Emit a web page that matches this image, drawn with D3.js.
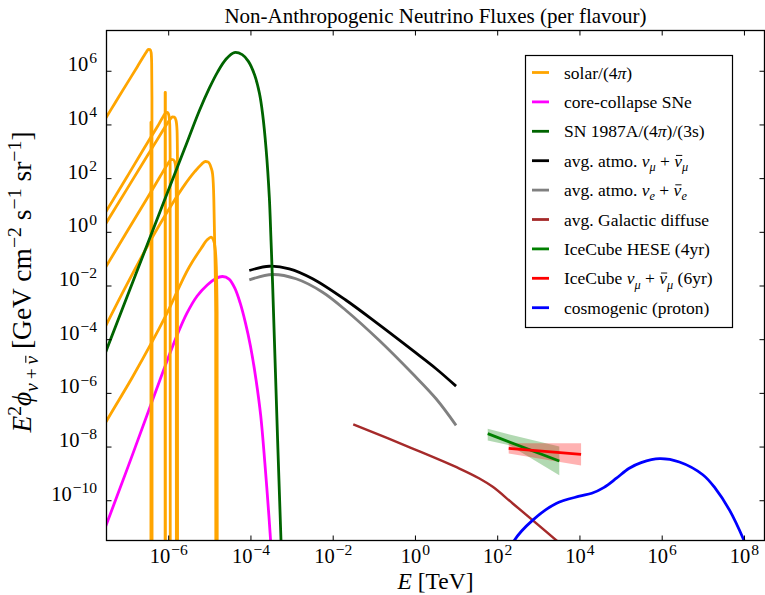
<!DOCTYPE html>
<html>
<head>
<meta charset="utf-8">
<script src="https://cdn.jsdelivr.net/npm/d3@7"></script>
<style>
  body { margin: 0; background: #fff; }
  svg { display: block; }
  text { font-family: "Liberation Serif", "Times New Roman", serif; fill: #000; }
</style>
</head>
<body>
<svg id="chart" width="765" height="595"></svg>
<script>
// All series are stored as [log10 E (TeV), log10 E^2 phi (GeV cm^-2 s^-1 sr^-1)].

// Solar neutrino spectra, divided by 4 pi
const solarPP = [[-7.6, 4.03], [-7.3, 4.78], [-7.0, 5.53], [-6.75, 6.15], [-6.6, 6.53], [-6.53, 6.70],
  [-6.48, 6.80], [-6.44, 6.79], [-6.415, 6.68], [-6.402, 6.3], [-6.395, 5.0], [-6.39, -20]];
const solarBe7Low = [[-6.42, -20], [-6.419, 4.08], [-6.414, 4.08], [-6.413, -20]];
const solarBe7High = [[-6.075, -20], [-6.074, 5.19], [-6.068, 5.19], [-6.067, -20]];
const solarN13 = [[-7.6, 0.53], [-7.0, 2.05], [-6.5, 3.33], [-6.25, 3.95], [-6.12, 4.3], [-6.06, 4.43],
  [-6.02, 4.45], [-5.985, 4.35], [-5.962, 4.0], [-5.953, 3.0], [-5.948, -20]];
const solarO15 = [[-7.6, 0.1], [-7.0, 1.6], [-6.5, 2.85], [-6.2, 3.6], [-6.05, 3.97], [-5.95, 4.2],
  [-5.9, 4.28], [-5.85, 4.27], [-5.81, 4.15], [-5.785, 3.8], [-5.775, 2.8], [-5.77, -20]];
const solarF17 = [[-7.6, -1.52], [-7.0, 0.01], [-6.5, 1.28], [-6.2, 2.05], [-6.05, 2.43], [-5.96, 2.64],
  [-5.92, 2.7], [-5.87, 2.68], [-5.83, 2.55], [-5.81, 2.2], [-5.803, 1.2], [-5.8, -20]];
const solarB8 = [[-7.6, -3.75], [-7.0, -1.95], [-6.34, -0.08], [-5.9, 1.05], [-5.6, 1.75], [-5.35, 2.25],
  [-5.2, 2.5], [-5.1, 2.62], [-5.03, 2.6], [-4.96, 2.4], [-4.92, 2.15], [-4.89, 1.2], [-4.875, 0],
  [-4.845, -3], [-4.84, -20]];
const solarHep = [[-7.6, -7.32], [-7.515, -7.09], [-6.867, -5.41], [-6.055, -3.116], [-5.484, -1.3],
  [-5.2, -0.62], [-5.05, -0.3], [-4.96, -0.2], [-4.9, -0.3], [-4.86, -0.6], [-4.83, -1.3], [-4.81, -3],
  [-4.805, -20]];
const solarSeries = [solarPP, solarBe7Low, solarBe7High, solarN13, solarO15, solarF17, solarB8, solarHep];

// Diffuse supernova background
const coreCollapse = [[-7.6, -11.3], [-7.0, -8.85], [-6.46, -6.6], [-6.1, -5.1], [-5.81, -3.95],
  [-5.55, -3.05], [-5.3, -2.4], [-5.05, -1.98], [-4.85, -1.75], [-4.68, -1.665], [-4.52, -1.76],
  [-4.38, -2.1], [-4.25, -2.65], [-4.12, -3.4], [-4.0, -4.25], [-3.865, -5.5], [-3.75, -6.85],
  [-3.65, -8.6], [-3.55, -10.6], [-3.48, -12.2]];

// SN 1987A burst, per 4 pi, averaged over 3 s
const sn1987a = [[-7.6, -4.8], [-7.5, -4.4], [-6.8, -1.63], [-6.1, 1.14], [-5.6, 3.1], [-5.245, 4.5],
  [-5.0, 5.35], [-4.8, 5.95], [-4.6, 6.42], [-4.393, 6.68], [-4.2, 6.6], [-4.05, 6.35], [-3.9, 5.85],
  [-3.78, 5.15], [-3.704, 4.39], [-3.62, 3.1], [-3.541, 1.29], [-3.5, -0.3], [-3.461, -1.94],
  [-3.339, -7.77], [-3.257, -11.49], [-3.23, -12.8]];

// Angle-averaged atmospheric fluxes
const atmoMu = [[-4.028, -1.442], [-3.541, -1.282], [-3.055, -1.379], [-2.488, -1.748], [-1.675, -2.55],
  [-0.865, -3.47], [-0.055, -4.42], [0.514, -5.1], [1.0, -5.75]];
const atmoE = [[-4.028, -1.79], [-3.461, -1.59], [-2.892, -1.75], [-2.245, -2.25], [-1.675, -2.93],
  [-0.865, -4.05], [-0.055, -5.29], [0.514, -6.22], [1.0, -7.21]];

// Galactic diffuse emission
const galactic = [[-1.5, -7.17], [-0.055, -8.076], [1.082, -8.82], [1.568, -9.19], [1.892, -9.5],
  [2.378, -10.12], [3.434, -11.49], [3.55, -11.65]];

// IceCube astrophysical fits: best fit and 1-sigma band
const heseFit = [[1.77, -7.52], [3.51, -8.54]];
const heseUpper = [[1.77, -7.34], [2.3, -7.55], [3.51, -8.0]];
const heseLower = [[1.77, -7.77], [2.3, -7.95], [3.51, -9.07]];
const numuFit = [[2.28, -8.07], [4.04, -8.29]];
const numuUpper = [[2.28, -7.88], [4.04, -7.88]];
const numuLower = [[2.28, -8.26], [4.04, -8.71]];

// Cosmogenic neutrinos from protons
const cosmogenic = [[2.2, -12.3], [2.42, -11.49], [2.865, -10.74], [3.434, -10.12], [4.0, -9.85],
  [4.3, -9.74], [4.6, -9.52], [4.9, -9.18], [5.2, -8.82], [5.5, -8.6], [5.95, -8.45], [6.43, -8.575],
  [7.0, -9.05], [7.3, -9.55], [7.65, -10.37], [8.0, -11.49], [8.08, -11.8]];

// Axis ticks (powers of ten)
const xTickExps = [-6, -4, -2, 0, 2, 4, 6, 8];
const yTickExps = [-10, -8, -6, -4, -2, 0, 2, 4, 6];

// Legend labels: [text, style] fragments; a trailing "~" on the style draws an overbar (antineutrino)
const legendItems = [
  { color: "#FFA500", label: [["solar/(4", ""], ["π", "i"], [")", ""]] },
  { color: "#FF00FF", label: [["core-collapse SNe", ""]] },
  { color: "#006400", label: [["SN 1987A/(4", ""], ["π", "i"], [")/(3s)", ""]] },
  { color: "#000000", label: [["avg. atmo. ", ""], ["ν", "i"], ["μ", "subi"], [" + ", ""], ["ν", "i~"], ["μ", "subi"]] },
  { color: "#808080", label: [["avg. atmo. ", ""], ["ν", "i"], ["e", "subi"], [" + ", ""], ["ν", "i~"], ["e", "subi"]] },
  { color: "#A52A2A", label: [["avg. Galactic diffuse", ""]] },
  { color: "#008000", label: [["IceCube HESE (4yr)", ""]] },
  { color: "#FF0000", label: [["IceCube ", ""], ["ν", "i"], ["μ", "subi"], [" + ", ""], ["ν", "i~"], ["μ", "subi"], [" (6yr)", ""]] },
  { color: "#0000FF", label: [["cosmogenic (proton)", ""]] }
];

const plot = { left: 106.5, right: 764.5, top: 30.5, bottom: 540.5 };

const svg = d3.select("#chart");
const x = d3.scaleLog().domain([10 ** -7.5, 10 ** 8.5]).range([plot.left, plot.right]);
const y = d3.scaleLog().domain([10 ** -11.5, 10 ** 7.5]).range([plot.bottom, plot.top]);

// Builds mixed text (italic, sub/superscripts); overbars are drawn as lines in the text's parent group
function richText(sel, parts, size, supScale = 0.7, supDx = 0) {
  let shift = 0;
  const barred = [];
  parts.forEach(([s, rawKind]) => {
    const hasBar = rawKind.endsWith("~");
    const kind = hasBar ? rawKind.slice(0, -1) : rawKind;
    const t = sel.append("tspan").text(s);
    let target = 0, fs = size, dx = 0;
    if (kind.startsWith("sup")) { target = -0.38 * size; fs = supScale * size; dx += supDx; }
    if (kind.startsWith("sub")) { target = 0.24 * size; fs = 0.7 * size; }
    if (dx) t.attr("dx", dx.toFixed(2));
    t.attr("dy", (target - shift).toFixed(2)).attr("font-size", fs.toFixed(2));
    if (kind === "i" || kind.endsWith("i")) t.attr("font-style", "italic");
    if (hasBar) barred.push({ node: t.node(), fs });
    shift = target;
  });
  const parent = d3.select(sel.node().parentNode);
  barred.forEach(({ node, fs }) => {
    const r = node.getExtentOfChar(0);
    const yb = r.y + 0.27 * fs;
    parent.append("line")
      .attr("x1", r.x + 0.22 * r.width).attr("x2", r.x + 1.02 * r.width)
      .attr("y1", yb).attr("y2", yb)
      .attr("stroke", "#000").attr("stroke-width", Math.max(0.9, 0.055 * fs));
  });
}

svg.append("defs").append("clipPath").attr("id", "plotClip")
  .append("rect")
  .attr("x", plot.left).attr("y", plot.top)
  .attr("width", plot.right - plot.left).attr("height", plot.bottom - plot.top);

const layer = svg.append("g").attr("clip-path", "url(#plotClip)");

const px = d => x(10 ** d[0]);
const py = d => y(10 ** d[1]);
// spectra with sharp endpoints keep a monotone interpolation; smooth spectra use Catmull-Rom
const edgeLine = d3.line().x(px).y(py).curve(d3.curveMonotoneX);
const smoothLine = d3.line().x(px).y(py).curve(d3.curveCatmullRom.alpha(0.5));

const band = d3.area()
  .x(d => x(10 ** d[0]))
  .y0(d => y(10 ** d[1]))
  .y1(d => y(10 ** d[2]));

function bandRows(upper, lower) {
  const es = Array.from(new Set(upper.map(d => d[0]).concat(lower.map(d => d[0])))).sort((a, b) => a - b);
  const interp = (arr, e) => {
    for (let i = 0; i < arr.length - 1; i++) {
      const [e0, v0] = arr[i], [e1, v1] = arr[i + 1];
      if (e >= e0 && e <= e1) return v0 + (v1 - v0) * (e - e0) / (e1 - e0);
    }
    return arr[arr.length - 1][1];
  };
  return es.map(e => [e, interp(lower, e), interp(upper, e)]);
}

function drawLine(data, color, width, gen = smoothLine) {
  layer.append("path")
    .datum(data)
    .attr("d", gen)
    .attr("fill", "none")
    .attr("stroke", color)
    .attr("stroke-width", width)
    .attr("stroke-linejoin", "round");
}

drawLine(coreCollapse, "#FF00FF", 2.8);
solarSeries.forEach(s => drawLine(s, "#FFA500", 2.8, edgeLine));
drawLine(atmoMu, "#000000", 2.8);
drawLine(atmoE, "#808080", 2.8);
drawLine(galactic, "#A52A2A", 2.4);

layer.append("path").datum(bandRows(heseUpper, heseLower)).attr("d", band)
  .attr("fill", "#008000").attr("fill-opacity", 0.3);
layer.append("path").datum(bandRows(numuUpper, numuLower)).attr("d", band)
  .attr("fill", "#FF0000").attr("fill-opacity", 0.3);
drawLine(heseFit, "#008000", 2.8, edgeLine);
drawLine(numuFit, "#FF0000", 2.8, edgeLine);
drawLine(cosmogenic, "#0000FF", 2.8);
drawLine(sn1987a, "#006400", 2.8);

// Frame
svg.append("rect")
  .attr("x", plot.left).attr("y", plot.top)
  .attr("width", plot.right - plot.left).attr("height", plot.bottom - plot.top)
  .attr("fill", "none").attr("stroke", "#000").attr("stroke-width", 1.3);

const tickFont = 20.5;
const xTicks = xTickExps.map(e => 10 ** e);
const yTicks = yTickExps.map(e => 10 ** e);
const expLabel = e => (e < 0 ? "\u2212" + Math.abs(e) : String(e));
const powerLabel = d => [["10", ""], [expLabel(Math.round(Math.log10(d))), "sup"]];

function styleAxis(g) {
  g.select(".domain").remove();
  g.selectAll(".tick line").attr("stroke", "#000").attr("stroke-width", 1);
}

const xAxisBottom = svg.append("g").attr("transform", `translate(0,${plot.bottom})`)
  .call(d3.axisBottom(x).tickValues(xTicks).tickSizeInner(-5).tickSizeOuter(0).tickFormat(() => ""));
styleAxis(xAxisBottom);
xAxisBottom.selectAll(".tick text").each(function (d) {
  const t = d3.select(this);
  t.text(null).attr("y", 22.5).attr("dy", null).attr("font-size", tickFont)
    .attr("text-anchor", "middle").attr("fill", "#000");
  richText(t, powerLabel(d), tickFont, 0.76, 1);
});

const xAxisTop = svg.append("g").attr("transform", `translate(0,${plot.top})`)
  .call(d3.axisTop(x).tickValues(xTicks).tickSizeInner(-5).tickSizeOuter(0).tickFormat(() => ""));
styleAxis(xAxisTop);
xAxisTop.selectAll(".tick text").remove();

const yAxisLeft = svg.append("g").attr("transform", `translate(${plot.left},0)`)
  .call(d3.axisLeft(y).tickValues(yTicks).tickSizeInner(-5).tickSizeOuter(0).tickFormat(() => ""));
styleAxis(yAxisLeft);
yAxisLeft.selectAll(".tick text").each(function (d) {
  const t = d3.select(this);
  t.text(null).attr("x", -9.5).attr("dy", "0.34em").attr("font-size", tickFont)
    .attr("text-anchor", "end").attr("fill", "#000");
  richText(t, powerLabel(d), tickFont, 0.76, 1);
});

const yAxisRight = svg.append("g").attr("transform", `translate(${plot.right},0)`)
  .call(d3.axisRight(y).tickValues(yTicks).tickSizeInner(-5).tickSizeOuter(0).tickFormat(() => ""));
styleAxis(yAxisRight);
yAxisRight.selectAll(".tick text").remove();

// Title and axis labels
svg.append("text")
  .attr("x", (plot.left + plot.right) / 2).attr("y", 23)
  .attr("text-anchor", "middle").attr("font-size", 21)
  .text("Non-Anthropogenic Neutrino Fluxes (per flavour)");

const xLabel = svg.append("text")
  .attr("x", (plot.left + plot.right) / 2).attr("y", 589)
  .attr("text-anchor", "middle").attr("font-size", 23.5);
richText(xLabel, [["E", "i"], [" [TeV]", ""]], 23.5);

const yLabelSize = 27.5;
const yLabelGroup = svg.append("g").attr("transform", `translate(31,282) rotate(-90)`);
const yLabel = yLabelGroup.append("text")
  .attr("x", 0).attr("y", 0)
  .attr("text-anchor", "middle").attr("font-size", yLabelSize);
richText(yLabel, [["E", "i"], ["2", "sup"], ["\u03D5", "i"], ["ν", "subi"], ["\u2009+\u2009", "sub"], ["ν", "subi~"],
  [" [GeV cm", ""], ["\u22122", "sup"], [" s", ""], ["\u22121", "sup"], [" sr", ""],
  ["\u22121", "sup"], ["]", ""]], yLabelSize, 0.72);

// Legend
const legend = svg.append("g");
legend.append("rect")
  .attr("x", 525.5).attr("y", 55.5).attr("width", 207).attr("height", 272)
  .attr("fill", "#fff").attr("stroke", "#000").attr("stroke-width", 1.2);
legendItems.forEach((item, i) => {
  const cy = 72.5 + i * 29.4;
  legend.append("line")
    .attr("x1", 532).attr("x2", 549).attr("y1", cy).attr("y2", cy)
    .attr("stroke", item.color).attr("stroke-width", 2.8);
  const t = legend.append("text")
    .attr("x", 564).attr("y", cy + 6).attr("font-size", 17.5);
  richText(t, item.label, 17.5);
});
</script>
</body>
</html>
